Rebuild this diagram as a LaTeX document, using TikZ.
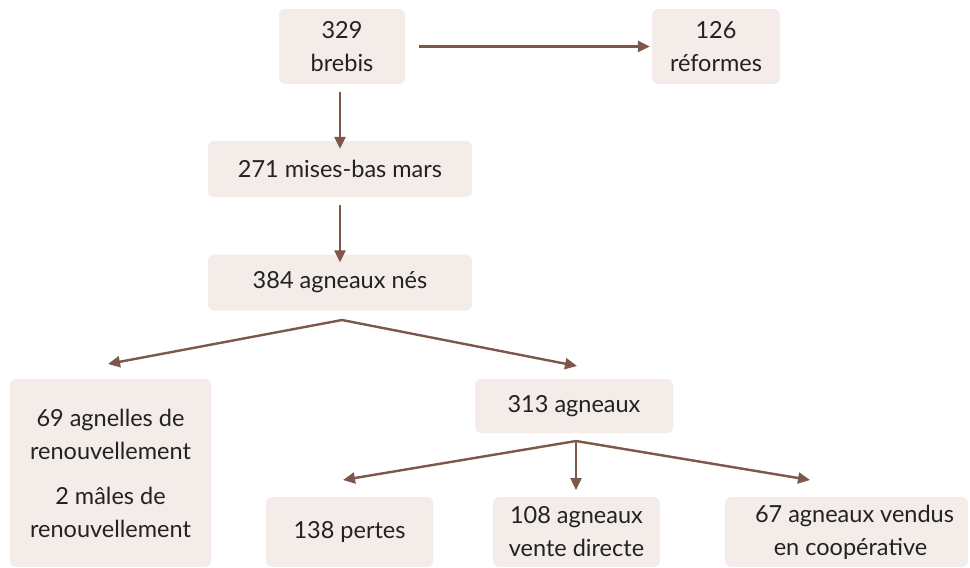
\documentclass[tikz,border=0pt]{standalone}
\usepackage{fontspec}
\setmainfont{Lato}
\usetikzlibrary{arrows.meta}
\definecolor{boxfill}{HTML}{F3ECE9}
\definecolor{flow}{HTML}{7B5849}
\definecolor{ink}{HTML}{222222}
\begin{document}
\begin{tikzpicture}[x=1pt,y=-1pt,
  box/.style={fill=boxfill,rounded corners=6pt,inner sep=0pt,align=center,
    text=ink,font=\fontsize{23.5}{33}\selectfont},
  flowline/.style={draw=flow,line width=2.4pt},
  flowarrow/.style={flowline,-{Triangle[length=12pt,width=11pt]}}]
\useasboundingbox (0,0) rectangle (970,568);
% boxes
\node[box,minimum width=126pt,minimum height=75pt] (brebis) at (342,46.5) {329\\brebis};
\node[box,minimum width=128pt,minimum height=75pt] (reformes) at (716,46.5) {126\\réformes};
\node[box,minimum width=264pt,minimum height=56pt] (misesbas) at (340,169) {271 mises-bas mars};
\node[box,minimum width=264pt,minimum height=56pt] (nes) at (340,282.5) {384 agneaux nés};
\node[box,minimum width=201pt,minimum height=188pt] (renouv) at (110.5,473)
  {69 agnelles de\\renouvellement\\[12pt]2 mâles de\\renouvellement};
\node[box,minimum width=198pt,minimum height=54pt] (agneaux) at (574,406) {313 agneaux};
\node[box,minimum width=167pt,minimum height=70pt] (pertes) at (349.5,532) {138 pertes};
\node[box,minimum width=167pt,minimum height=70pt] (directe) at (576.5,532) {108 agneaux\\vente directe};
\node[box,minimum width=243pt,minimum height=70pt] (coop) at (846.5,532) {\hspace*{16pt}67 agneaux vendus\\\hspace*{8pt}en coopérative};
% connector ends
\coordinate (forkA) at (342,320);
\coordinate (tipL) at (108,364);
\coordinate (tipR) at (577,366);
\coordinate (forkB) at (576,441);
\coordinate (tipP) at (343,480);
\coordinate (tipD) at (576,490);
\coordinate (tipC) at (810,480);
% connectors
\draw[flowarrow] ([xshift=14pt]brebis.east) -- ([xshift=-2pt]reformes.west);
\draw[flowarrow] ([yshift=-8pt]brebis.south -| misesbas.north) -- ([yshift=-8pt]misesbas.north);
\draw[flowarrow] ([yshift=-8pt]misesbas.south) -- ([yshift=-8pt]nes.north);
\draw[flowarrow] (forkA) -- (tipL);
\draw[flowarrow] (forkA) -- (tipR);
\draw[flowarrow] (forkB) -- (tipP);
\draw[flowarrow] (forkB) -- (tipD);
\draw[flowarrow] (forkB) -- (tipC);
\end{tikzpicture}
\end{document}
